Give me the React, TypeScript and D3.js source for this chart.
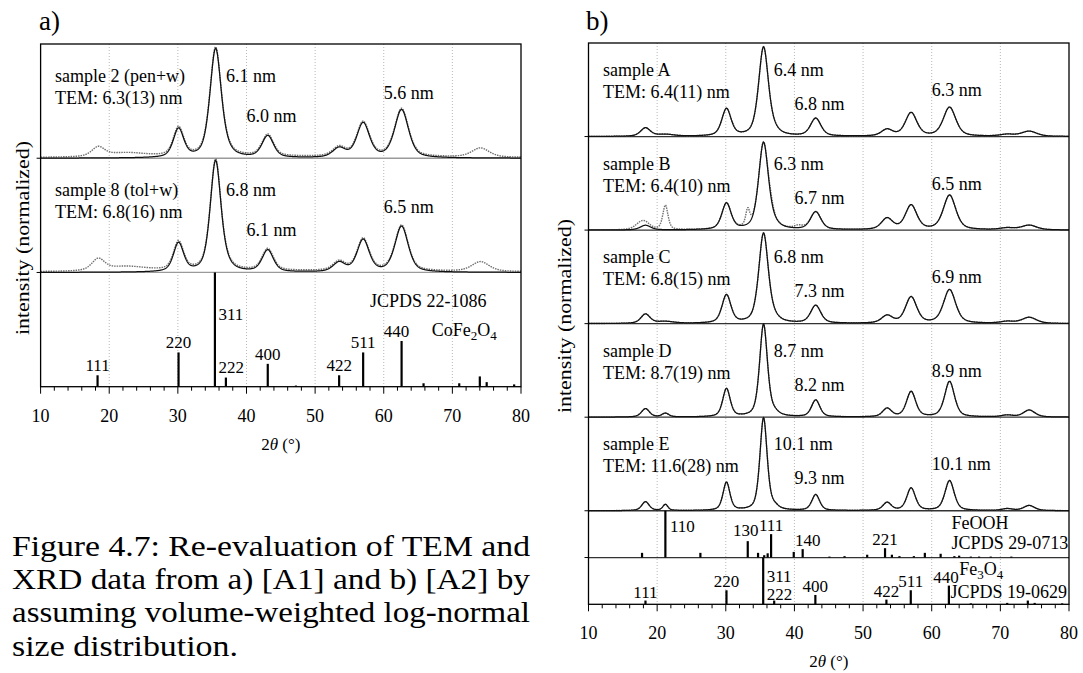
import * as d3 from 'd3';

type Pt = [number, number];
type Scale = d3.ScaleLinear<number, number>;

const FONT = '"Liberation Serif", "Times New Roman", serif';

const xTickValues = [10, 20, 30, 40, 50, 60, 70, 80];
const gridValues = [20, 30, 40, 50, 60, 70];

// ---- panel a) CoFe2O4 : fitted reflections (2theta, rel. height, FWHM)
const aCenters = [30.1, 35.5, 37.1, 43.1, 53.5, 57.0, 62.6];
const a2Heights = [0.25, 0.95, 0.03, 0.19, 0.08, 0.3, 0.42];
const a2Widths = [1.8, 1.95, 2.0, 2.0, 2.2, 2.2, 2.4];
const a8Heights = [0.25, 0.97, 0.03, 0.19, 0.08, 0.28, 0.4];
const a8Widths = [1.75, 1.85, 1.9, 1.95, 2.1, 2.1, 2.3];
// features only seen in the measured patterns of a)
const aExtraCenters = [18.4, 22.5, 74.1, 45.0];
const aExtraWidths = [2.2, 7.0, 3.0, 70];
const a2ExtraHeights = [0.08, 0.035, 0.08, 0.012];
const a8ExtraHeights = [0.1, 0.04, 0.085, 0.012];

const aNames = ['sample 2 (pen+w)', 'sample 8 (tol+w)'];
const aTem = ['TEM: 6.3(13) nm', 'TEM: 6.8(16) nm'];
const aSizes = [
  ['6.1 nm', '6.0 nm', '5.6 nm'],
  ['6.8 nm', '6.1 nm', '6.5 nm'],
];

const coFePos = [18.3, 30.1, 35.4, 37.0, 43.1, 47.2, 53.5, 57.0, 62.6, 65.8, 71.0, 74.0, 75.0, 79.0];
const coFeInt = [10, 30, 100, 8, 20, 1, 10, 30, 40, 3, 3, 9, 4, 2];
const coFeHkl = ['111', '220', '311', '222', '400', '', '422', '511', '440', '', '', '', '', ''];
const coFeTitles = ['JCPDS 22-1086', 'CoFe_2O_4'];

// ---- panel b) Fe3O4 samples A-E
const bCenters = [18.3, 21.2, 30.1, 35.5, 37.1, 43.1, 53.5, 57.0, 62.6, 71.0, 74.2];
const bAHeights = [0.09, 0.02, 0.29, 0.95, 0.03, 0.19, 0.07, 0.25, 0.31, 0.02, 0.055];
const bAWidths = [1.7, 3.0, 1.6, 1.7, 1.75, 1.8, 1.95, 2.0, 2.15, 2.5, 2.6];
const bBHeights = [0.05, 0.0, 0.28, 0.93, 0.03, 0.19, 0.12, 0.26, 0.37, 0.02, 0.05];
const bBWidths = [1.8, 3.0, 1.6, 1.7, 1.75, 1.8, 1.95, 2.0, 2.15, 2.5, 2.6];
const bCHeights = [0.1, 0.02, 0.3, 0.96, 0.03, 0.19, 0.08, 0.28, 0.36, 0.02, 0.065];
const bCWidths = [1.6, 3.0, 1.55, 1.65, 1.7, 1.75, 1.9, 1.95, 2.1, 2.4, 2.5];
const bDHeights = [0.09, 0.04, 0.3, 0.99, 0.03, 0.18, 0.09, 0.27, 0.38, 0.02, 0.075];
const bDWidths = [1.4, 1.2, 1.3, 1.35, 1.4, 1.45, 1.55, 1.6, 1.7, 2.0, 2.0];
const bEHeights = [0.095, 0.065, 0.3, 0.99, 0.03, 0.17, 0.085, 0.24, 0.32, 0.02, 0.055];
const bEWidths = [1.3, 0.9, 1.2, 1.25, 1.3, 1.35, 1.45, 1.5, 1.6, 1.9, 1.9];
// goethite impurity visible in measured pattern of sample B
const bBExtraCenters = [17.6, 21.2, 33.2, 36.6, 40.6];
const bBExtraHeights = [0.06, 0.26, 0.17, 0.04, 0.03];
const bBExtraWidths = [2.0, 0.9, 0.7, 0.8, 1.5];

const bNames = ['sample A', 'sample B', 'sample C', 'sample D', 'sample E'];
const bTem = ['TEM: 6.4(11) nm', 'TEM: 6.4(10) nm', 'TEM: 6.8(15) nm', 'TEM: 8.7(19) nm', 'TEM: 11.6(28) nm'];
const bSizes = [
  ['6.4 nm', '6.8 nm', '6.3 nm'],
  ['6.3 nm', '6.7 nm', '6.5 nm'],
  ['6.8 nm', '7.3 nm', '6.9 nm'],
  ['8.7 nm', '8.2 nm', '8.9 nm'],
  ['10.1 nm', '9.3 nm', '10.1 nm'],
];

const feoohPos = [17.8, 21.2, 26.3, 33.2, 34.7, 35.6, 36.1, 36.6, 39.9, 41.2, 45.1, 47.3, 50.6, 53.2, 54.2, 55.3, 57.4, 59.0, 61.3, 63.3, 64.0, 65.7, 66.9, 68.6, 71.6];
const feoohInt = [10, 100, 10, 35, 10, 5, 9, 50, 12, 18, 2, 3, 6, 20, 6, 3, 3, 10, 8, 3, 4, 2, 2, 2, 2];
const feoohHkl = ['', '110', '', '130', '', '', '', '111', '', '140', '', '', '', '221', '', '', '', '', '', '', '', '', '', '', ''];
const feoohTitles = ['FeOOH', 'JCPDS 29-0713'];

const fe3o4Pos = [18.3, 30.1, 35.45, 37.05, 43.05, 53.4, 56.95, 62.5, 65.7, 71.0, 74.0, 75.0, 79.0];
const fe3o4Int = [8, 30, 100, 8, 20, 10, 30, 40, 2, 3, 8, 3, 2];
const fe3o4Hkl = ['111', '220', '311', '222', '400', '422', '511', '440', '', '', '', '', ''];
const fe3o4Titles = ['Fe_3O_4', 'JCPDS 19-0629'];

const captionLines = [
  'Figure 4.7: Re-evaluation of TEM and',
  'XRD data from a) [A1] and b) [A2] by',
  'assuming volume-weighted log-normal',
  'size distribution.',
];

// ---------------------------------------------------------------------------
const angles = d3.range(10, 80.0001, 0.05);

function pattern(centers: number[], heights: number[], widths: number[],
  ec: number[] = [], eh: number[] = [], ew: number[] = []): Pt[] {
  const c = centers.concat(ec), h = heights.concat(eh), w = widths.concat(ew);
  return angles.map(t => {
    let s = 0;
    c.forEach((ci, i) => {
      const d = (t - ci) / w[i];
      s += h[i] * (0.5 / (1 + 4 * d * d) + 0.5 * Math.exp(-4 * Math.LN2 * d * d));
    });
    return [t, s] as Pt;
  });
}

function Formula({ text, sub }: { text: string; sub: number }) {
  const parts = text.split(/_(\d)/);
  return (
    <>
      {parts.map((p, i) => i % 2 === 1
        ? <tspan key={i} dy={sub} fontSize={13}>{p}</tspan>
        : <tspan key={i} dy={i === 0 ? 0 : -sub}>{p}</tspan>)}
    </>
  );
}

type LabelLayout = Record<string, { side?: boolean; at?: number; frac?: number; dx?: number; gap?: number }>;

interface SpecRow { kind: 'spec'; units: number; fit: Pt[]; meas: Pt[]; name: string; tem: string; sizes: string[] }
interface StickRow {
  kind: 'stick'; units: number; pos: number[]; int: number[]; hkl: string[];
  layout: LabelLayout; gap: number; titles: string[]; titleAt: number[]; titleFrac: number[];
}
type Row = SpecRow | StickRow;

interface PanelCfg {
  id: string; letter: string; letterX: number;
  x0: number; x1: number; top: number; bottom: number;
  rows: Row[]; sepColor: string;
  off: { name: number; tem: number; main: number; s400: number; s440: number };
  yTitleX: number; yTitleY: number;
}

function Panel({ p }: { p: PanelCfg }) {
  const x = d3.scaleLinear().domain([10, 80]).range([p.x0, p.x1]);
  const unit = (p.bottom - p.top) / d3.sum(p.rows, r => r.units);
  let acc = p.top;
  const boxes = p.rows.map(r => { const t = acc; acc += r.units * unit; return { t, b: acc }; });
  const clip = `clip-${p.id}`;
  const ticks = x.ticks(35);

  const drawRow = (r: Row, i: number) => {
    const { t, b } = boxes[i];
    if (r.kind === 'spec') {
      const y: Scale = d3.scaleLinear().domain([0, 1]).range([b, t]);
      const line = d3.line<Pt>().x(d => x(d[0])).y(d => y(d[1]));
      return (
        <g key={i}>
          <g clipPath={`url(#${clip})`}>
            <path d={line(r.meas) ?? ''} fill="none" stroke="#6e6e6e" strokeWidth={1.4} strokeDasharray="1.5 1" />
            <path d={line(r.fit) ?? ''} fill="none" stroke="#111" strokeWidth={1.25} />
          </g>
          <text x={x(12.1)} y={t + p.off.name}>{r.name}</text>
          <text x={x(12.1)} y={t + p.off.tem}>{r.tem}</text>
          <text x={x(37)} y={t + p.off.main}>{r.sizes[0]}</text>
          <text x={x(40)} y={t + p.off.s400}>{r.sizes[1]}</text>
          <text x={x(60)} y={t + p.off.s440}>{r.sizes[2]}</text>
        </g>
      );
    }
    const y: Scale = d3.scaleLinear().domain([0, 100]).range([b, t]);
    return (
      <g key={i}>
        {r.pos.map((v, j) => (
          <line key={j} x1={x(v)} x2={x(v)} y1={y(0)} y2={y(r.int[j])} stroke="#000" strokeWidth={2.2} />
        ))}
        {r.hkl.map((h, j) => {
          if (!h) return null;
          const L = r.layout[h] || {};
          if (L.side) {
            return <text key={j} x={x(L.at ?? r.pos[j]) + (L.dx ?? 3.5)} y={y((L.frac ?? 0.5) * 100)} fontSize={17}>{h}</text>;
          }
          return (
            <text key={j} x={x(r.pos[j]) + (L.dx ?? 0)} y={y(r.int[j]) - (L.gap ?? r.gap)} fontSize={17} textAnchor="middle">{h}</text>
          );
        })}
        {r.titles.map((s, j) => (
          <text key={`t${j}`} x={x(r.titleAt[j])} y={y(r.titleFrac[j] * 100)}>
            <Formula text={s} sub={4} />
          </text>
        ))}
      </g>
    );
  };

  return (
    <g fontFamily={FONT} fontSize={18} fill="#000">
      <defs>
        <clipPath id={clip}>
          <rect x={p.x0} y={p.top} width={p.x1 - p.x0} height={p.bottom - p.top} />
        </clipPath>
      </defs>
      {gridValues.map(v => (
        <line key={v} x1={x(v)} x2={x(v)} y1={p.top} y2={p.bottom} stroke="#b0b0b0" strokeWidth={0.9} strokeDasharray="1 2" />
      ))}
      {boxes.slice(0, -1).map((bx, i) => (
        <g key={i}>
          <line x1={p.x0} x2={p.x1} y1={bx.b} y2={bx.b} stroke={p.sepColor} strokeWidth={1.3} />
          <line x1={p.x0 - 4} x2={p.x0} y1={bx.b} y2={bx.b} stroke="#000" strokeWidth={1} />
        </g>
      ))}
      {p.rows.map(drawRow)}
      <rect x={p.x0} y={p.top} width={p.x1 - p.x0} height={p.bottom - p.top} fill="none" stroke="#000" strokeWidth={1.3} />
      {ticks.map(v => (
        <line key={v} x1={x(v)} x2={x(v)} y1={p.bottom} y2={p.bottom + (v % 10 === 0 ? 7 : 4)} stroke="#000" strokeWidth={1} />
      ))}
      {xTickValues.map(v => (
        <text key={v} x={x(v)} y={p.bottom + 35} textAnchor="middle">{v}</text>
      ))}
      <text x={(p.x0 + p.x1) / 2} y={p.bottom + 63} textAnchor="middle" fontSize={17}>
        2<tspan fontStyle="italic">θ</tspan> (°)
      </text>
      <text transform={`translate(${p.yTitleX},${p.yTitleY}) rotate(-90)`} textAnchor="middle"
        fontSize={18} textLength={194} lengthAdjust="spacingAndGlyphs">intensity (normalized)</text>
      <text x={p.letterX} y={30} fontSize={27}>{p.letter}</text>
    </g>
  );
}

const labelOffA = { name: 38, tem: 59.5, main: 38, s400: 78, s440: 55 };
const labelOffB = { name: 33, tem: 55, main: 33, s400: 67, s440: 53 };

export default function App() {
  const aFit = [pattern(aCenters, a2Heights, a2Widths), pattern(aCenters, a8Heights, a8Widths)];
  const aMeas = [
    pattern(aCenters, a2Heights, a2Widths, aExtraCenters, a2ExtraHeights, aExtraWidths),
    pattern(aCenters, a8Heights, a8Widths, aExtraCenters, a8ExtraHeights, aExtraWidths),
  ];
  const bH = [bAHeights, bBHeights, bCHeights, bDHeights, bEHeights];
  const bW = [bAWidths, bBWidths, bCWidths, bDWidths, bEWidths];
  const bFit = bH.map((h, i) => pattern(bCenters, h, bW[i]));
  const bMeas = bH.map((h, i) => (i === 1
    ? pattern(bCenters, h, bW[i], bBExtraCenters, bBExtraHeights, bBExtraWidths)
    : bFit[i]));

  const panelA: PanelCfg = {
    id: 'a', letter: 'a)', letterX: 39, x0: 40.6, x1: 521, top: 44, bottom: 386.7,
    sepColor: '#9a9a9a', off: labelOffA, yTitleX: 29, yTitleY: 238,
    rows: [
      ...aFit.map((f, i): Row => ({ kind: 'spec', units: 1, fit: f, meas: aMeas[i], name: aNames[i], tem: aTem[i], sizes: aSizes[i] })),
      {
        kind: 'stick', units: 1, pos: coFePos, int: coFeInt, hkl: coFeHkl, gap: 4,
        layout: { '311': { side: true, at: 35.4, frac: 0.585 }, '222': { side: true, at: 35.4, frac: 0.12 }, '440': { dx: -5 } },
        titles: coFeTitles, titleAt: [58.0, 67.0], titleFrac: [0.7, 0.445],
      },
    ],
  };

  const panelB: PanelCfg = {
    id: 'b', letter: 'b)', letterX: 586, x0: 588.5, x1: 1069, top: 43, bottom: 604.3,
    sepColor: '#333', off: labelOffB, yTitleX: 571, yTitleY: 316,
    rows: [
      ...bFit.map((f, i): Row => ({ kind: 'spec', units: 2, fit: f, meas: bMeas[i], name: bNames[i], tem: bTem[i], sizes: bSizes[i] })),
      {
        kind: 'stick', units: 1, pos: feoohPos, int: feoohInt, hkl: feoohHkl, gap: 3,
        layout: { '110': { side: true, at: 21.2, frac: 0.54, dx: 4.5 }, '130': { dx: -2, gap: 5 }, '140': { dx: 5 } },
        titles: feoohTitles, titleAt: [62.9, 62.9], titleFrac: [0.61, 0.18],
      },
      {
        kind: 'stick', units: 1, pos: fe3o4Pos, int: fe3o4Int, hkl: fe3o4Hkl, gap: 3,
        layout: { '311': { side: true, at: 35.45, frac: 0.48 }, '222': { side: true, at: 35.45, frac: 0.09 }, '440': { dx: -3 } },
        titles: fe3o4Titles, titleAt: [64.0, 62.75], titleFrac: [0.62, 0.14],
      },
    ],
  };

  const capWidths = [518, 518, 518, 226];
  const capBase = [556, 589, 622, 656];

  return (
    <svg width={1083} height={673} viewBox="0 0 1083 673"
      style={{ position: 'absolute', left: 0, top: 0, background: '#fff' }}>
      <rect width={1083} height={673} fill="#fff" />
      <Panel p={panelA} />
      <Panel p={panelB} />
      <g fontFamily={FONT} fontSize={30} fill="#000">
        {captionLines.map((s, i) => (
          <text key={i} x={12} y={capBase[i]} textLength={capWidths[i]} lengthAdjust="spacingAndGlyphs">{s}</text>
        ))}
      </g>
    </svg>
  );
}
